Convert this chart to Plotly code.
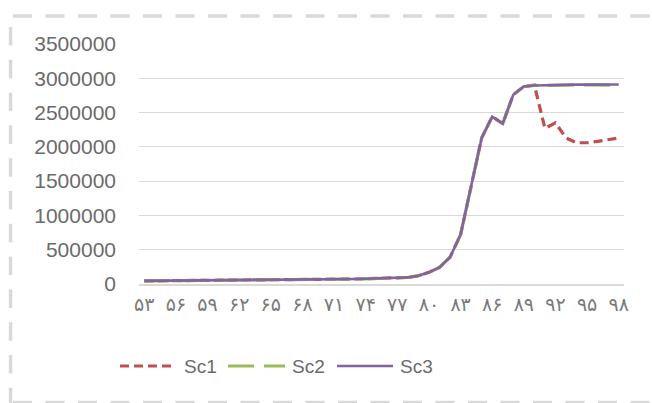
import plotly.graph_objects as go

# Years 1353..1398 (shown as two-digit Persian years)
years = list(range(53, 99))

# Shared path up to year 89
base = [45000, 46000, 47000, 48000, 49000, 50000, 51000, 52000, 53000, 54000,
        55000, 56000, 57000, 58000, 60000, 62000, 64000, 66000, 68000, 70000,
        73000, 76000, 80000, 84000, 88000, 96000, 120000, 170000, 242000, 390000,
        720000, 1450000, 2130000, 2440000, 2340000, 2760000, 2880000]

sc1 = base + [2900000, 2270000, 2350000, 2130000, 2060000, 2060000, 2080000, 2100000, 2130000]
sc2 = base + [2895000, 2900000, 2902000, 2903000, 2904000, 2904000, 2903000, 2902000, 2900000]
sc3 = base + [2895000, 2900000, 2903000, 2905000, 2907000, 2908000, 2909000, 2910000, 2910000]

persian_digits = "۰۱۲۳۴۵۶۷۸۹"
tick_years = years[::3]
tick_labels = ["".join(persian_digits[int(c)] for c in str(y)) for y in tick_years]

y_ticks = [0, 500000, 1000000, 1500000, 2000000, 2500000, 3000000, 3500000]

series_names = ["Sc1", "Sc2", "Sc3"]
series_colors = ["#C0504D", "#9BBB59", "#8064A2"]
series_dash = ["9px,5px", "26px,10px", "solid"]
series_width = [3.2, 3.2, 2.6]

x_idx = list(range(len(years)))
tick_idx = [years.index(y) for y in tick_years]

text_color = "#6b6b6b"
grid_color = "#d9d9d9"

fig = go.Figure()
for name, vals, col, dash, w in zip(series_names, [sc1, sc2, sc3],
                                    series_colors, series_dash, series_width):
    fig.add_trace(go.Scatter(x=x_idx, y=vals, name=name, mode="lines",
                             showlegend=False,
                             line=dict(color=col, width=w, dash=dash)))

L, R, T, B = 139, 28, 44, 119
W, H = 652, 403
pw, ph = W - L - R, H - T - B

def px_x(x):
    return (x - L) / pw

def px_y(y):
    return (H - B - y) / ph

shapes = []
# dashed chart-area frame: top and bottom edges as dashed lines
frame = dict(color=grid_color, width=3.5, dash="19px,13.5px")
shapes.append(dict(type="line", xref="paper", yref="paper",
                   x0=px_x(13), x1=px_x(652), y0=px_y(16), y1=px_y(16), line=frame))
shapes.append(dict(type="line", xref="paper", yref="paper",
                   x0=px_x(13), x1=px_x(652), y0=px_y(402.5), y1=px_y(402.5), line=frame))
# left edge built from short filled segments
seg_top = 27.0
while seg_top < H:
    shapes.append(dict(type="rect", xref="paper", yref="paper",
                       x0=px_x(8.8), x1=px_x(12.3),
                       y0=px_y(seg_top), y1=px_y(min(seg_top + 18.5, H)),
                       line=dict(width=0), fillcolor=grid_color))
    seg_top += 32.8

# legend row below the plot
annotations = []
legend_y = 366
legend_items = [(120, 176, 182), (228, 285, 290), (337, 393, 398)]
for (x0, x1, xt), name, col, dash, w in zip(legend_items, series_names,
                                             series_colors, series_dash, series_width):
    shapes.append(dict(type="line", xref="paper", yref="paper",
                       x0=px_x(x0), x1=px_x(x1), y0=px_y(legend_y), y1=px_y(legend_y),
                       line=dict(color=col, width=w, dash=dash)))
    annotations.append(dict(xref="paper", yref="paper", x=px_x(xt), y=px_y(legend_y),
                            xanchor="left", yanchor="middle", text=name, showarrow=False,
                            font=dict(size=19, color=text_color,
                                      family="Liberation Sans, sans-serif")))

fig.update_layout(
    width=W, height=H,
    margin=dict(l=L, r=R, t=T, b=B, pad=0),
    paper_bgcolor="white", plot_bgcolor="white",
    font=dict(family="Liberation Sans, Arial, sans-serif", color=text_color),
    showlegend=False,
    xaxis=dict(range=[-0.5, len(years) - 0.5], tickmode="array",
               tickvals=tick_idx, ticktext=tick_labels,
               showgrid=False, zeroline=False, showline=True,
               linecolor=grid_color, linewidth=1.5, ticks="",
               ticklabelstandoff=2,
               tickfont=dict(size=19, color="#7a7a7a",
                             family="DejaVu Sans, sans-serif")),
    yaxis=dict(range=[0, 3500000], tickmode="array", tickvals=y_ticks,
               tickformat="d", showgrid=True, gridcolor=grid_color,
               gridwidth=1.2, zeroline=False, showline=False, ticks="",
               ticklabelstandoff=22,
               tickfont=dict(size=21, color=text_color)),
    shapes=shapes,
    annotations=annotations,
)

fig.write_html("out.html")
